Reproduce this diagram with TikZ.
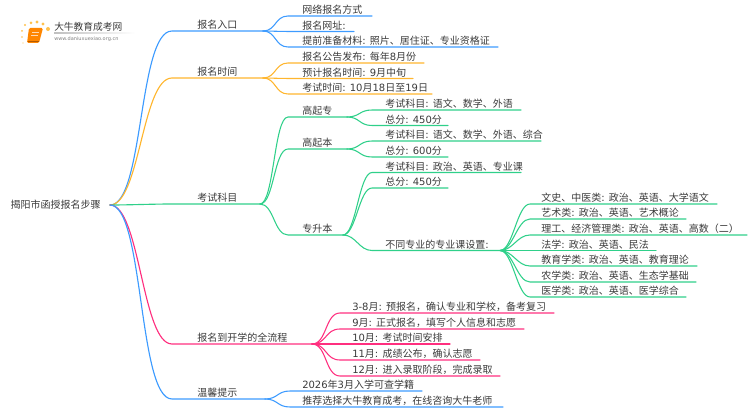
\documentclass[tikz,border=0pt]{standalone}
\usepackage{fontspec}
\usepackage{xcolor}
\setmainfont{Noto Sans CJK SC}
\newfontfamily\numfont{DejaVu Sans}
\newcommand{\nm}[1]{{\numfont #1}}
\usetikzlibrary{positioning, calc}

\definecolor{blueline}{HTML}{3D9BFF}
\definecolor{orangeline}{HTML}{FFB62E}
\definecolor{greenline}{HTML}{2FD08A}
\definecolor{pinkline}{HTML}{FF2F7F}
\definecolor{inktext}{HTML}{3A3A3A}

\tikzset{
  topic/.style={anchor=south west, inner ysep=0.5pt, inner xsep=0pt, text height=6.4pt, text depth=1pt, font=\fontsize{7.5pt}{9pt}\selectfont, text=inktext},
  limb/.style={line width=0.85pt, line cap=round},
  twig/.style={line width=0.8pt, line cap=round},
}

\begin{document}
\begin{tikzpicture}[x=0.75pt, y=-0.75pt]
  \useasboundingbox (0, 0) rectangle (750, 410);

  % logo
  \foreach \dx/\dy/\r in {22/31/1, 25/25/1.2, 31/23/1.5, 37/22/1.7, 43/24/1.7, 48/29/2, 22/37/0.9, 23/43/0.7}
    \fill [orangeline!85!white] (\dx, \dy) circle (\r);
  \fill [orange!95!yellow, rounded corners=1pt] (29, 28) -- (43, 28) -- (39, 43) -- (27, 43) -- cycle;
  \draw [white!70!orange, line width=0.3pt] (32, 32) -- (39, 32) (31, 35) -- (38, 35);
  \draw [orange!70!black, line width=0.4pt] (27.5, 41.5) -- (39, 41.5);
  \node (logotitle) [anchor=west, inner sep=0pt, text=inktext, font=\fontsize{7.3pt}{9pt}\selectfont] at (54, 27) {大牛教育成考网};
  \node (logourl) [anchor=west, inner sep=0pt, text=gray, font=\numfont\fontsize{3.75pt}{5pt}\selectfont] at (54, 39) {www.daniuxuexiao.org.cn};
  \shade [left color=gray!50, right color=white] (54, 33) rectangle (135, 33.8);

  % root
  \node (root) [anchor=east, inner ysep=0pt, inner xsep=6.75pt, text=inktext, font=\fontsize{7.5pt}{9pt}\selectfont] at (110, 205) {揭阳市函授报名步骤};

  % first level
  \foreach \key/\y/\xe/\c/\pull/\txt in {
    sign/31/263/blueline/34/报名入口,
    time/78/263/orangeline/30/报名时间,
    subj/204/260/greenline/20/考试科目,
    flow/344/312/pinkline/30/报名到开学的全流程,
    tips/399/265/blueline/34/温馨提示} {
    \node (\key) [topic, xshift=18.75pt] at (172, \y) {\txt};
    \coordinate (\key-end) at (\xe, \y);
    \draw [limb, color=\c] (root.east) .. controls +(\pull, 0) and +(-\pull, 0) .. (172, \y) -- (\key-end);
  }

  % sign up
  \foreach \i/\y/\xe/\txt in {
    1/16/372/网络报名方式,
    2/31.5/354/报名网址\nm{:},
    3/47/498/提前准备材料\nm{: }照片、居住证、专业资格证} {
    \node (sign\i) [topic] at (302, \y) {\txt};
    \coordinate (sign\i-end) at (\xe, \y);
    \draw [twig, blueline] (sign-end) .. controls +(13, 0) and +(-13, 0) .. (288, \y) -- (sign\i-end);
  }

  % dates
  \foreach \i/\y/\xe/\txt in {
    1/63/424/报名公告发布\nm{: }每年\nm{8}月份,
    2/78.5/413/预计报名时间\nm{: 9}月中旬,
    3/94/432/考试时间\nm{: 10}月\nm{18}日至\nm{19}日} {
    \node (time\i) [topic] at (302, \y) {\txt};
    \coordinate (time\i-end) at (\xe, \y);
    \draw [twig, orangeline] (time-end) .. controls +(13, 0) and +(-13, 0) .. (288, \y) -- (time\i-end);
  }

  % subjects
  \foreach \i/\y/\xe/\txt in {
    1/117/347/高起专,
    2/149/347/高起本,
    3/235/343/专升本} {
    \node (subj\i) [topic] at (302, \y) {\txt};
    \coordinate (subj\i-end) at (\xe, \y);
    \draw [twig, greenline] (subj-end) .. controls +(14, 0) and +(-14, 0) .. (288, \y) -- (subj\i-end);
  }
  \foreach \up/\i/\y/\xe/\txt in {
    subj1/1/110/521/考试科目\nm{: }语文、数学、外语,
    subj1/2/125.5/448/总分\nm{: 450}分,
    subj2/3/141/541/考试科目\nm{: }语文、数学、外语、综合,
    subj2/4/157/448/总分\nm{: 600}分,
    subj3/5/172.5/521/考试科目\nm{: }政治、英语、专业课,
    subj3/6/188/448/总分\nm{: 450}分,
    subj3/7/250.5/500/不同专业的专业课设置\nm{:}} {
    \node (exam\i) [topic] at (385, \y) {\txt};
    \coordinate (exam\i-end) at (\xe, \y);
    \draw [twig, greenline] (\up-end) .. controls +(13, 0) and +(-13, 0) .. (372, \y) -- (exam\i-end);
  }
  \foreach \i/\y/\xe/\txt in {
    1/204/717/文史、中医类\nm{: }政治、英语、大学语文,
    2/219/686/艺术类\nm{: }政治、英语、艺术概论,
    3/235/747/理工、经济管理类\nm{: }政治、英语、高数（二）,
    4/250.5/656/法学\nm{: }政治、英语、民法,
    5/266/697/教育学类\nm{: }政治、英语、教育理论,
    6/282/696/农学类\nm{: }政治、英语、生态学基础,
    7/297/686/医学类\nm{: }政治、英语、医学综合} {
    \node (major\i) [topic] at (541, \y) {\txt};
    \coordinate (major\i-end) at (\xe, \y);
    \draw [twig, greenline] (exam7-end) .. controls +(13, 0) and +(-13, 0) .. (530, \y) -- (major\i-end);
  }

  % full process
  \foreach \i/\y/\xe/\txt in {
    1/313/554/\nm{3-8}月\nm{: }预报名，确认专业和学校，备考复习,
    2/329/524/\nm{9}月\nm{: }正式报名，填写个人信息和志愿,
    3/344/450/\nm{10}月\nm{: }考试时间安排,
    4/360/480/\nm{11}月\nm{: }成绩公布，确认志愿,
    5/376/500/\nm{12}月\nm{: }进入录取阶段，完成录取} {
    \node (flow\i) [topic] at (352, \y) {\txt};
    \coordinate (flow\i-end) at (\xe, \y);
    \draw [twig, pinkline] (flow-end) .. controls +(15, 0) and +(-15, 0) .. (340, \y) -- (flow\i-end);
  }

  % reminders
  \foreach \i/\y/\xe/\txt in {
    1/391/422/\nm{2026}年\nm{3}月入学可查学籍,
    2/407/503/推荐选择大牛教育成考，在线咨询大牛老师} {
    \node (tips\i) [topic] at (302, \y) {\txt};
    \coordinate (tips\i-end) at (\xe, \y);
    \draw [twig, blueline] (tips-end) .. controls +(13, 0) and +(-13, 0) .. (290, \y) -- (tips\i-end);
  }
\end{tikzpicture}
\end{document}
